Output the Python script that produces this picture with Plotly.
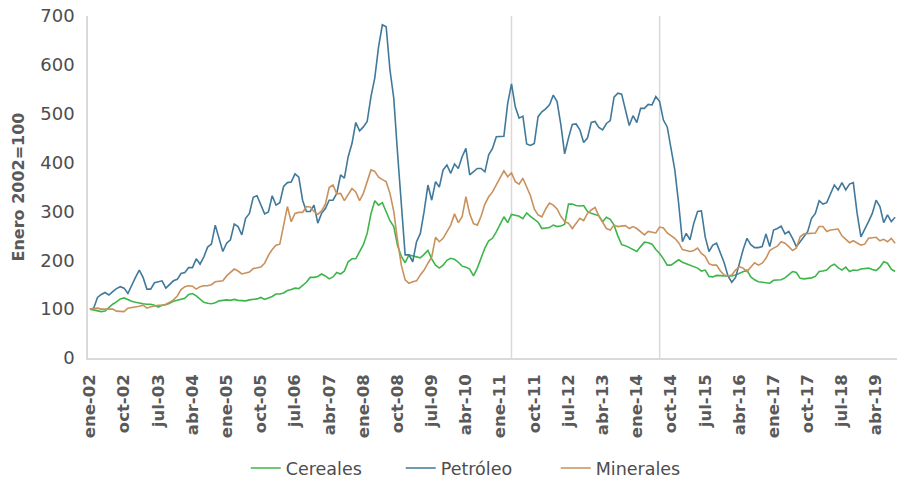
import plotly.graph_objects as go

# ---------------- data ----------------
month_names = ["ene", "feb", "mar", "abr", "may", "jun", "jul", "ago", "sep", "oct", "nov", "dic"]
months = [f"{month_names[k % 12]}-{(2 + k // 12):02d}" for k in range(213)]  # ene-02 .. sep-19

cereales = [
    100, 98, 97, 95, 96, 104, 110, 115, 121, 123, 119, 116, 114, 112, 111, 110, 110, 108, 104, 108,
    109, 112, 116, 118, 120, 122, 130, 132, 127, 121, 114, 112, 111, 113, 117, 118, 119, 118, 120, 118,
    117, 117, 119, 120, 121, 124, 120, 123, 126, 131, 131, 133, 138, 140, 143, 142, 148, 155, 165, 165,
    167, 172, 168, 162, 166, 175, 172, 178, 197, 203, 203, 218, 232, 255, 295, 322, 313, 318, 300, 281,
    269, 230, 208, 195, 211, 209, 207, 205, 212, 220, 203, 190, 184, 190, 200, 204, 202, 196, 188, 186,
    182, 168, 184, 205, 225, 240, 245, 258, 272, 289, 277, 294, 292, 290, 285, 297, 290, 284, 278, 265,
    266, 267, 272, 269, 270, 274, 315, 315, 312, 311, 312, 300, 296, 293, 291, 279, 288, 284, 272, 250,
    232, 230, 226, 222, 218, 228, 237, 236, 233, 222, 214, 203, 190, 190, 196, 201, 196, 193, 190, 186,
    184, 178, 180, 167, 166, 169, 168, 168, 168, 168, 170, 173, 177, 180, 166, 160, 156, 155, 154, 153,
    159, 160, 160, 164, 170, 177, 175, 163, 162, 163, 164, 167, 177, 178, 180, 188, 192, 185, 180, 186,
    177, 180, 179, 182, 183, 184, 181, 179, 186, 197, 194, 182, 177,
]

petroleo = [
    100, 102, 124, 130, 134, 129, 136, 142, 146, 143, 132, 150, 165, 180, 165, 141, 141, 154, 156, 158,
    143, 151, 158, 161, 173, 175, 185, 185, 203, 192, 207, 227, 233, 272, 242, 218, 235, 242, 274, 269,
    252, 286, 296, 329, 332, 313, 295, 299, 332, 313, 318, 351, 359, 360, 377, 370, 323, 300, 300, 313,
    276, 296, 306, 323, 323, 337, 375, 368, 412, 439, 482, 465, 473, 484, 535, 573, 637, 682, 678, 590,
    532, 419, 323, 211, 211, 197, 238, 255, 300, 354, 323, 361, 350, 385, 395, 378, 397, 388, 412, 429,
    375, 381, 388, 388, 381, 416, 429, 453, 454, 454, 521, 561, 514, 491, 495, 438, 435, 439, 494, 504,
    510, 518, 538, 525, 477, 418, 450, 478, 479, 467, 441, 450, 482, 484, 472, 467, 480, 486, 534, 542,
    540, 509, 476, 496, 482, 511, 511, 519, 518, 535, 525, 487, 473, 429, 385, 317, 238, 255, 242, 276,
    300, 301, 248, 218, 231, 235, 214, 195, 168, 155, 165, 195, 222, 245, 232, 226, 226, 228, 254, 228,
    262, 265, 270, 254, 259, 245, 228, 238, 248, 259, 286, 296, 322, 315, 318, 337, 354, 344, 359, 344,
    356, 359, 296, 248, 262, 279, 296, 323, 310, 277, 293, 279, 288,
]

minerales = [
    100, 101, 102, 100, 100, 99, 100, 96, 95, 95, 102, 103, 105, 106, 108, 102, 105, 107, 108, 108,
    110, 114, 119, 127, 140, 146, 148, 147, 141, 146, 148, 148, 150, 156, 157, 158, 168, 175, 182, 178,
    172, 174, 176, 183, 184, 186, 194, 210, 222, 231, 233, 269, 310, 279, 296, 298, 298, 310, 309, 300,
    294, 301, 315, 349, 354, 336, 337, 322, 334, 347, 340, 322, 337, 361, 385, 382, 370, 365, 361, 337,
    300, 240, 190, 160, 153, 156, 158, 170, 180, 194, 207, 247, 238, 245, 260, 272, 295, 277, 289, 330,
    295, 275, 272, 290, 315, 330, 340, 355, 368, 383, 371, 379, 361, 356, 368, 350, 332, 305, 293, 289,
    305, 317, 313, 305, 290, 279, 276, 265, 276, 286, 281, 296, 303, 308, 291, 279, 265, 262, 272, 269,
    270, 271, 265, 269, 265, 259, 252, 259, 257, 256, 268, 266, 256, 250, 245, 236, 222, 220, 218, 220,
    225, 214, 208, 193, 190, 190, 178, 170, 168, 170, 180, 187, 184, 177, 186, 195, 190, 194, 204, 220,
    225, 229, 238, 235, 228, 220, 225, 248, 254, 255, 255, 256, 269, 269, 259, 262, 263, 264, 250, 242,
    236, 240, 235, 231, 233, 245, 246, 247, 240, 243, 238, 245, 235,
]

tick_labels = [months[k] for k in range(0, 213, 9)]
y_ticks = [0, 100, 200, 300, 400, 500, 600, 700]
event_months = ["abr-11", "jul-14"]

# ---------------- figure ----------------
FONT = "DejaVu Sans"
GRAY = "#595959"

fig = go.Figure()
series = [
    ("Cereales", cereales, "#3DB54A"),
    ("Petróleo", petroleo, "#41799B"),
    ("Minerales", minerales, "#C9915C"),
]
x_idx = list(range(len(months)))
for name, vals, col in series:
    fig.add_trace(go.Scatter(
        x=x_idx, y=vals, name=name, mode="lines",
        line=dict(color=col, width=1.6),
        hoverinfo="skip",
    ))

for m in event_months:
    xi = months.index(m)
    fig.add_shape(type="line", xref="x", yref="paper", x0=xi, x1=xi, y0=0, y1=1,
                  line=dict(color="#D9D9D9", width=1.5), layer="below")

fig.update_layout(
    width=898, height=479,
    margin=dict(l=88, r=1, t=16, b=121, autoexpand=False),
    plot_bgcolor="white", paper_bgcolor="white",
    font=dict(family=FONT, color=GRAY),
    showlegend=True,
    legend=dict(
        orientation="h", x=0.195, xanchor="left", y=-0.322, yanchor="middle",
        font=dict(size=17.5, color="#4D4D4D", family=FONT),
        entrywidth=110, entrywidthmode="pixels",
    ),
    xaxis=dict(
        range=[-0.5, len(months) - 0.5],
        tickmode="array",
        tickvals=[months.index(t) for t in tick_labels],
        ticktext=tick_labels,
        tickangle=-90,
        tickfont=dict(size=16.5, color=GRAY, family=FONT, weight="bold"),
        showgrid=False, zeroline=False,
        showline=True, linecolor="#D9D9D9", linewidth=1.5,
        ticks="", ticklabelstandoff=8, automargin=False,
        ticklabeloverflow="allow",
    ),
    yaxis=dict(
        range=[0, 700],
        tickmode="array", tickvals=y_ticks,
        tickfont=dict(size=18, color="#4D4D4D", family=FONT),
        showgrid=False, zeroline=False,
        showline=True, linecolor="#D9D9D9", linewidth=1.5,
        ticks="", ticklabelstandoff=8, automargin=False,
        ticklabeloverflow="allow",
        title=dict(text="Enero 2002=100", font=dict(size=16, color=GRAY, family=FONT, weight="bold"),
                   standoff=12),
    ),
)

# remove the browser's default 8px body margin so the 898x479 figure fills the window
fig.write_html(
    "out.html",
    config={"displayModeBar": False},
    post_script="document.body.style.margin='0px';",
)
